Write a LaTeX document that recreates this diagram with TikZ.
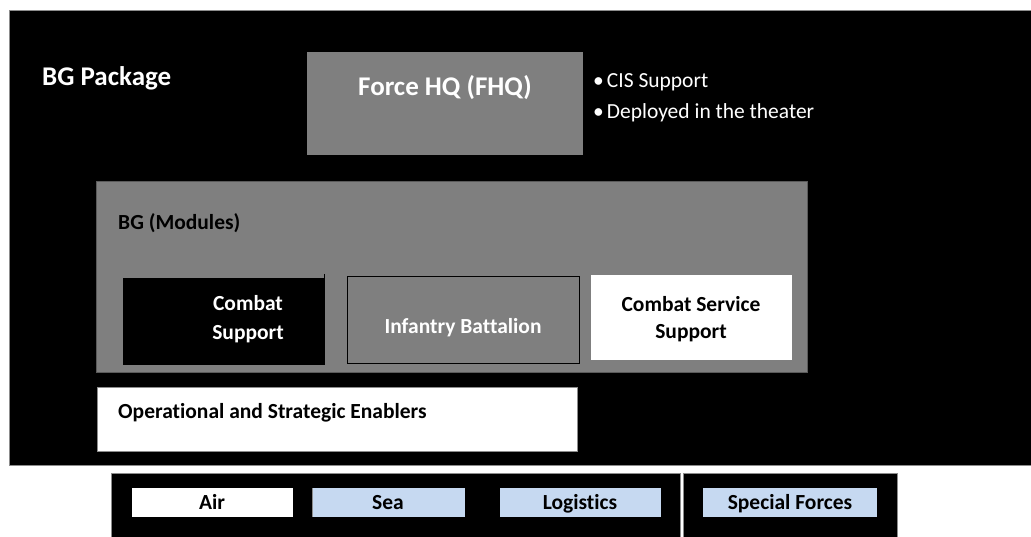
\documentclass[tikz,border=0pt]{standalone}
\usepackage{fontspec}
\setmainfont[Ligatures={NoCommon}]{Carlito}
\definecolor{grayfill}{HTML}{7F7F7F}
\definecolor{lblue}{HTML}{C6D9F1}
\definecolor{edgegray}{HTML}{8C8C8C}
\definecolor{darkedge}{HTML}{5A5A5A}
\tikzset{
  box/.style={anchor=north west, inner sep=0pt, outer sep=0pt, line width=0.8pt},
  title/.style={font=\bfseries\fontsize{27}{31}\selectfont, inner sep=0pt, text=white},
  lbl/.style={font=\bfseries\fontsize{21.5}{26}\selectfont, inner sep=0pt},
  small/.style={font=\bfseries\fontsize{21.5}{26}\selectfont, inner sep=0pt},
  bul/.style={font=\fontsize{21.5}{26}\selectfont, inner sep=0pt, text=white, anchor=base west},
}
\begin{document}
\begin{tikzpicture}[x=1pt,y=-1pt]
\useasboundingbox (0,0) rectangle (1031,537);
\fill[white] (0,0) rectangle (1031,537);
\clip (0,0) rectangle (1031,537);
% outer black package
\node[box, fill=black, draw=edgegray, minimum width=1030pt, minimum height=455pt] (pkg) at (9,10) {};
% Force HQ
\node[box, fill=grayfill, minimum width=276pt, minimum height=103pt] (fhq) at (307,52) {};
% BG modules container
\node[box, fill=grayfill, draw=darkedge, minimum width=711pt, minimum height=191pt] (mods) at (96,181) {};
% Combat support
\node[box, fill=black, minimum width=201pt, minimum height=87pt] (cs) at (123,278) {};
\coordinate (cstick) at (324,274);
\draw[black, line width=1pt] (cstick) -- (cs.south east);
% Infantry battalion
\node[box, fill=grayfill, draw=black, line width=1pt, minimum width=232pt, minimum height=86pt] (inf) at (347,277) {};
% Combat service support
\node[box, fill=white, minimum width=201pt, minimum height=85pt] (css) at (591,275) {};
% Operational and strategic enablers
\node[box, fill=white, draw=edgegray, minimum width=480pt, minimum height=64pt] (ops) at (97,387) {};
% lower boxes
\node[box, fill=black, draw=edgegray, minimum width=569pt, minimum height=80pt] (lowl) at (111,473) {};
\node[box, fill=black, draw=edgegray, minimum width=214pt, minimum height=80pt] (lowr) at (683,473) {};
\node[box, fill=white, minimum width=161pt, minimum height=29pt] (air) at (132,488) {};
\node[box, fill=lblue, minimum width=153pt, minimum height=29pt] (sea) at (312,488) {};
\draw[edgegray, line width=0.8pt] (sea.north west) -- (sea.south west);
\node[box, fill=lblue, minimum width=161pt, minimum height=29pt] (logi) at (500,488) {};
\node[box, fill=lblue, minimum width=174pt, minimum height=29pt] (sf) at (703,488) {};
% texts
\node[title, anchor=base west] (tpkg) at (42,86) {BG Package};
\node[title, anchor=base] (tfhq) at (445,96) {Force HQ (FHQ)};
\node[bul] (b1) at (593,88) {•\hspace{3pt}CIS Support};
\node[bul] (b2) at (593,119) {•\hspace{3pt}Deployed in the theater};
\node[lbl, anchor=base west, text=black] (tmods) at (118,230) {BG (Modules)};
\node[lbl, anchor=base, text=white] (tcs1) at (248,311) {Combat};
\node[lbl, anchor=base, text=white] (tcs2) at (248,340) {Support};
\node[lbl, anchor=base, text=white] (tinf) at (463,334) {Infantry Battalion};
\node[lbl, anchor=base, text=black] (tcss1) at (691,312) {Combat Service};
\node[lbl, anchor=base, text=black] (tcss2) at (691,338) {Support};
\node[lbl, anchor=base west, text=black] (tops) at (118,418) {Operational and Strategic Enablers};
\node[small, anchor=base, text=black] (tair) at (212,509) {Air};
\node[small, anchor=base, text=black] (tsea) at (388,509) {Sea};
\node[small, anchor=base, text=black] (tlog) at (580,509) {Logistics};
\node[small, anchor=base, text=black] (tsf) at (790,509) {Special Forces};
\end{tikzpicture}
\end{document}
